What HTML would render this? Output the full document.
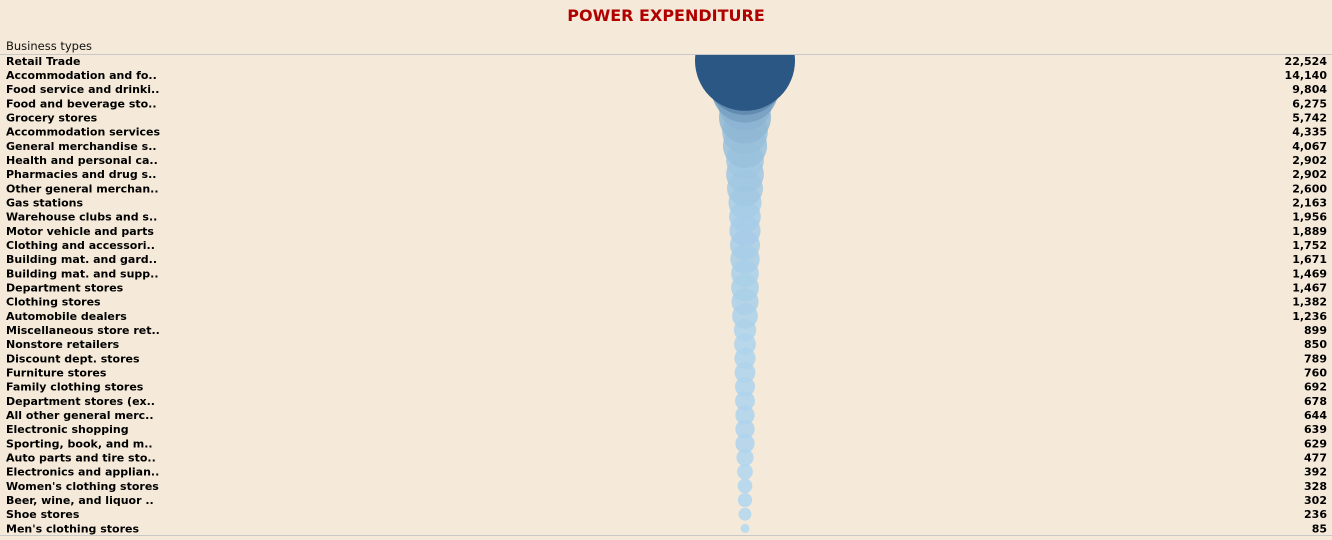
<!DOCTYPE html>
<html><head><meta charset="utf-8"><style>
html,body{margin:0;padding:0;background:#f5ead9;}
body{width:1332px;height:536px;overflow:hidden;font-family:"DejaVu Sans","Liberation Sans",sans-serif;}
</style></head><body>
<svg width="1332" height="536" id="chart">
<rect width="1332" height="536" fill="#f5ead9"/>
<text x="666" y="21" text-anchor="middle" font-size="16" font-weight="bold" fill="#b00000">POWER EXPENDITURE</text>
<text x="6" y="50" font-size="11.5" fill="#111">Business types</text>
<line x1="0" y1="54.5" x2="1332" y2="54.5" stroke="#c8c8c8"/>
<line x1="0" y1="535.5" x2="1332" y2="535.5" stroke="#c8c8c8"/>
<defs><clipPath id="clip"><rect x="0" y="55" width="1332" height="480"/></clipPath></defs>
<g id="bubbles" clip-path="url(#clip)"></g>
<g id="labels"></g>
</svg>
<script>
const categories=["Retail Trade","Accommodation and fo..","Food service and drinki..","Food and beverage sto..","Grocery stores","Accommodation services","General merchandise s..","Health and personal ca..","Pharmacies and drug s..","Other general merchan..","Gas stations","Warehouse clubs and s..","Motor vehicle and parts","Clothing and accessori..","Building mat. and gard..","Building mat. and supp..","Department stores","Clothing stores","Automobile dealers","Miscellaneous store ret..","Nonstore retailers","Discount dept. stores","Furniture stores","Family clothing stores","Department stores (ex..","All other general merc..","Electronic shopping","Sporting, book, and  m..","Auto parts and tire sto..","Electronics and applian..","Women's clothing stores","Beer, wine, and liquor ..","Shoe stores","Men's clothing stores"];
const values=[22524,14140,9804,6275,5742,4335,4067,2902,2902,2600,2163,1956,1889,1752,1671,1469,1467,1382,1236,899,850,789,760,692,678,644,639,629,477,392,328,302,236,85];
const NS="http://www.w3.org/2000/svg";
const y0=60.8,step=14.17,cx=745;
const maxV=Math.max(...values);
function yPos(i){return y0+i*step;}
function rScale(v){return 1.5+48.5*Math.sqrt(v/maxV);}
function color(v){
  const t=Math.min(1,v/maxV);
  const a=[178,216,240],b=[42,87,131];
  return `rgb(${a.map((c,k)=>Math.round(c+(b[k]-c)*t)).join(',')})`;
}
const bg=document.getElementById('bubbles'),lg=document.getElementById('labels');
for(let i=values.length-1;i>=0;i--){
  const c=document.createElementNS(NS,'circle');
  c.setAttribute('cx',cx);c.setAttribute('cy',yPos(i));
  c.setAttribute('r',rScale(values[i]));
  c.setAttribute('fill',color(values[i]));
  c.setAttribute('fill-opacity',i===0?1:0.85);
  
  
  bg.appendChild(c);
}
categories.forEach((name,i)=>{
  const t=document.createElementNS(NS,'text');
  t.setAttribute('x',6);t.setAttribute('y',yPos(i)+4);
  t.setAttribute('font-size','11');t.setAttribute('font-weight','bold');t.setAttribute('fill','#000');
  t.textContent=name;
  
  
  lg.appendChild(t);
  const v=document.createElementNS(NS,'text');
  v.setAttribute('x',1327);v.setAttribute('y',yPos(i)+4);v.setAttribute('text-anchor','end');
  v.setAttribute('font-size','11');v.setAttribute('font-weight','bold');v.setAttribute('fill','#000');
  v.textContent=values[i].toLocaleString('en-US');
  
  
  lg.appendChild(v);
});
</script>
</body></html>
